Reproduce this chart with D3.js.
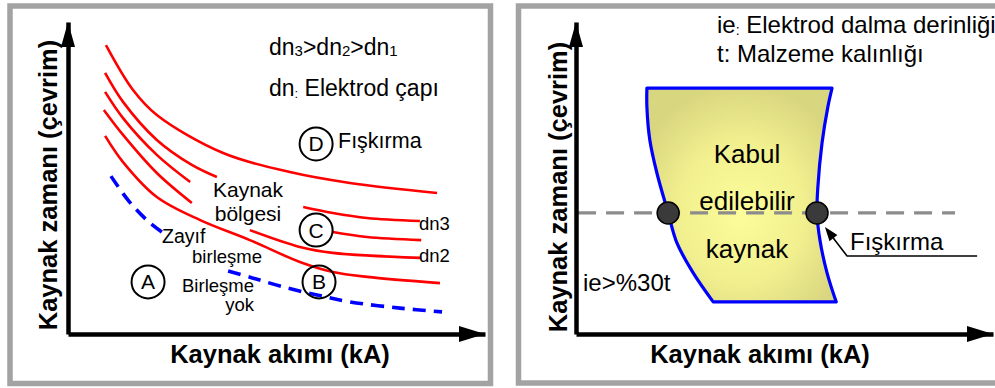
<!DOCTYPE html>
<html>
<head>
<meta charset="utf-8">
<script src="https://cdn.jsdelivr.net/npm/d3@7"></script>
<style>
  html, body { margin: 0; padding: 0; background: #fff; }
  svg { display: block; font-family: "Liberation Sans", Arial, sans-serif; }
</style>
</head>
<body>
<svg id="chart" width="995" height="388"></svg>
<script>
// ---------- Left diagram: welding time vs. welding current lobes ----------
// Values are in schematic units (0-100 on both axes).
const curveA  = [[9.1,92.6],[15.6,78.2],[21.3,70.2],[37.2,58.0],[53.2,51.9],[67.6,48.4],[88.5,45.2]];
const curveB  = [[8.9,83.7],[13.2,74.4],[21.3,62.2],[29.7,54.2],[35.7,50.3]];
const curveDn3 = [[56.4,40.7],[63.5,38.8],[71.7,37.2],[84.4,36.2]];
const curveC  = [[8.9,77.6],[13.2,69.2],[21.3,57.4],[29.3,48.7]];
const curveCTail = [[63.5,32.7],[71.7,31.1],[84.7,30.1]];
const curveD  = [[8.6,71.8],[13.2,63.8],[21.3,51.6],[29.7,42.0]];
const curveDn2 = [[43.6,33.3],[55.6,27.9],[63.5,26.0],[84.7,24.4]];
const curveE  = [[8.9,63.5],[13.2,55.1],[21.3,43.9],[31.7,36.5],[43.6,30.1],[55.6,23.1],[63.5,19.9],[71.7,18.3],[89.2,16.3]];
const noWeldA = [[10.3,50.6],[14.4,42.9],[18.9,36.5],[22.5,32.7]];
const noWeldB = [[38.4,20.2],[44.4,17.9],[51.6,15.1],[59.7,12.5],[67.6,10.3],[79.6,8.3],[89.7,7.1]];
const zoneLetters = ["A","B","C","D"];
const zoneCenters = [[19.2,16.7],[60.2,16.7],[59.5,33.3],[59.5,60.9]];

// ---------- Right diagram: acceptable weld window ----------
const lobeRight = [[61.4,78.8],[60.4,72.8],[59.0,61.2],[58.0,47.1],[57.8,38.8],[58.5,30.1],[60.2,19.6],[62.4,10.3]];
const lobeLeft  = [[32.9,10.3],[28.1,19.6],[24.2,29.2],[22.1,38.8],[19.4,51.6],[17.7,62.2],[17.0,72.8],[17.0,78.8]];
const depthLevel = 38.8;
const depthSpan = [0.5, 90.9];
const limitPoints = [[22.1,38.8],[57.8,38.8]];
const expulsionLeader = [[59.7,34.3],[65.0,25.0],[96.2,25.0]];

const axisXTitle = "Kaynak akımı (kA)";
const axisYTitle = "Kaynak zamanı (çevrim)";

const svg = d3.select("#chart");
const FONT = '"Liberation Sans", Arial, sans-serif';

svg.append("rect").attr("width", 995).attr("height", 388).attr("fill", "#fff");

const defs = svg.append("defs");
const grad = defs.append("radialGradient").attr("id", "lobeFill")
  .attr("cx", "50%").attr("cy", "58%").attr("r", "60%");
grad.append("stop").attr("offset", "0%").attr("stop-color", "#fdfd9a");
grad.append("stop").attr("offset", "55%").attr("stop-color", "#f1ef8e");
grad.append("stop").attr("offset", "100%").attr("stop-color", "#d9d680");

// Panel frames
svg.append("rect").attr("x", 10).attr("y", 6).attr("width", 480.5).attr("height", 377.5)
  .attr("fill", "none").attr("stroke", "#a3a3a3").attr("stroke-width", 5.5);
svg.append("rect").attr("x", 518.5).attr("y", 6).attr("width", 500).attr("height", 377)
  .attr("fill", "none").attr("stroke", "#a3a3a3").attr("stroke-width", 5.5);

function drawAxes(g, x, y, labelX, labelY) {
  const ax = g.append("g").attr("transform", `translate(0,${y(0)})`)
    .call(d3.axisBottom(x).ticks(0).tickSizeOuter(0));
  const ay = g.append("g").attr("transform", `translate(${x(0)},0)`)
    .call(d3.axisLeft(y).ticks(0).tickSizeOuter(0));
  [ax, ay].forEach(a => a.select(".domain").attr("stroke", "#000").attr("stroke-width", 4.5));
  // arrow heads
  const xe = x.range()[1], y0 = y(0);
  g.append("path").attr("d", `M${xe},${y0} L${xe - 26},${y0 - 8} L${xe - 26},${y0 + 8} Z`).attr("fill", "#000");
  const ye = y.range()[1], x0 = x(0);
  g.append("path").attr("d", `M${x0},${ye} L${x0 - 7},${ye + 25} L${x0 + 7},${ye + 25} Z`).attr("fill", "#000");
  // titles
  g.append("text").attr("x", labelX[0]).attr("y", labelX[1]).attr("text-anchor", "middle")
    .attr("font-family", FONT).attr("font-weight", "bold").attr("font-size", 25.5).text(axisXTitle);
  g.append("text").attr("transform", `translate(${labelY[0]},${labelY[1]}) rotate(-90)`)
    .attr("text-anchor", "middle")
    .attr("font-family", FONT).attr("font-weight", "bold").attr("font-size", 25.5).text(axisYTitle);
}

// ================= LEFT =================
const gL = svg.append("g");
const xL = d3.scaleLinear().domain([0, 100]).range([68, 485]);
const yL = d3.scaleLinear().domain([0, 100]).range([334, 22]);
const lineL = d3.line().x(d => xL(d[0])).y(d => yL(d[1])).curve(d3.curveCatmullRom.alpha(0.5));

[curveA, curveB, curveDn3, curveC, curveCTail, curveD, curveDn2, curveE].forEach(c => {
  gL.append("path").attr("d", lineL(c)).attr("fill", "none")
    .attr("stroke", "#ff0000").attr("stroke-width", 2.6);
});
[noWeldA, noWeldB].forEach(c => {
  gL.append("path").attr("d", lineL(c)).attr("fill", "none")
    .attr("stroke", "#0000ff").attr("stroke-width", 3.6).attr("stroke-dasharray", "13,8");
});

zoneLetters.forEach((L, i) => {
  const [cx, cy] = zoneCenters[i];
  gL.append("circle").attr("cx", xL(cx)).attr("cy", yL(cy)).attr("r", 16.5)
    .attr("fill", "none").attr("stroke", "#000").attr("stroke-width", 2);
  gL.append("text").attr("x", xL(cx)).attr("y", yL(cy) + 7.5).attr("text-anchor", "middle")
    .attr("font-family", FONT).attr("font-size", 21).text(L);
});

function txt(g, x, y, s, size, anchor) {
  return g.append("text").attr("x", x).attr("y", y).attr("text-anchor", anchor || "start")
    .attr("font-family", FONT).attr("font-size", size).text(s);
}

// dn3>dn2>dn1
const t1 = gL.append("text").attr("x", 269).attr("y", 55).attr("font-family", FONT).attr("font-size", 23);
[["dn", null], ["3", "s"], [">dn", null], ["2", "s"], [">dn", null], ["1", "s"]].forEach(([s, k]) => {
  const ts = t1.append("tspan").text(s);
  if (k) ts.attr("font-size", 15).attr("dy", 1); else ts.attr("dy", s === "dn" ? 0 : -1);
});
const t2 = gL.append("text").attr("x", 269).attr("y", 96).attr("font-family", FONT).attr("font-size", 23);
t2.append("tspan").text("dn");
t2.append("tspan").attr("font-size", 13).attr("dy", 2).text(":");
t2.append("tspan").attr("dy", -2).text(" Elektrod çapı");

txt(gL, 338, 148, "Fışkırma", 21.5);
txt(gL, 248, 197, "Kaynak", 21, "middle");
txt(gL, 248, 221, "bölgesi", 21, "middle");
txt(gL, 419, 230, "dn3", 18.5);
txt(gL, 419, 262, "dn2", 18.5);
txt(gL, 162, 243, "Zayıf", 19.5);
txt(gL, 262, 263, "birleşme", 18.5, "end");
txt(gL, 254, 292, "Birleşme", 18.5, "end");
txt(gL, 254, 311, "yok", 18.5, "end");

drawAxes(gL, xL, yL, [280, 363], [57, 185]);

// ================= RIGHT =================
const gR = svg.append("g");
const xR = d3.scaleLinear().domain([0, 100]).range([576, 993]);
const yR = d3.scaleLinear().domain([0, 100]).range([334, 22]);
const sideR = d3.line().x(d => xR(d[0])).y(d => yR(d[1])).curve(d3.curveCatmullRom.alpha(0.5));

const lobePath = sideR(lobeRight) + "L" + sideR(lobeLeft).slice(1) + "Z";
gR.append("path").attr("d", lobePath).attr("fill", "url(#lobeFill)")
  .attr("stroke", "#0000ff").attr("stroke-width", 3.2).attr("stroke-linejoin", "round");

gR.append("line")
  .attr("x1", xR(depthSpan[0])).attr("x2", xR(depthSpan[1]))
  .attr("y1", yR(depthLevel)).attr("y2", yR(depthLevel))
  .attr("stroke", "#8c8c8c").attr("stroke-width", 3.2).attr("stroke-dasharray", "18,10");

txt(gR, 747, 163, "Kabul", 26, "middle");
txt(gR, 747, 210, "edilebilir", 26, "middle");
txt(gR, 747, 258, "kaynak", 26, "middle");

gR.selectAll("circle.limit").data(limitPoints).join("circle").attr("class", "limit")
  .attr("cx", d => xR(d[0])).attr("cy", d => yR(d[1])).attr("r", 11)
  .attr("fill", "#3a3a3a").attr("stroke", "#000").attr("stroke-width", 1.5);

// leader to the expulsion limit
const lead = d3.line().x(d => xR(d[0])).y(d => yR(d[1]));
gR.append("path").attr("d", lead(expulsionLeader.slice().reverse().slice(0, 2).concat([[expulsionLeader[0][0] + 1.3, expulsionLeader[0][1] - 2.3]])))
  .attr("fill", "none").attr("stroke", "#000").attr("stroke-width", 1.6);
{
  const [tx, ty] = [xR(expulsionLeader[0][0]), yR(expulsionLeader[0][1])];
  const [ex, ey] = [xR(expulsionLeader[1][0]), yR(expulsionLeader[1][1])];
  const ang = Math.atan2(ey - ty, ex - tx);
  const L = 14, W = 5;
  const bx = tx + L * Math.cos(ang), by = ty + L * Math.sin(ang);
  const px = -Math.sin(ang) * W, py = Math.cos(ang) * W;
  gR.append("path").attr("d", `M${tx},${ty} L${bx + px},${by + py} L${bx - px},${by - py} Z`).attr("fill", "#000");
}
txt(gR, 850, 250, "Fışkırma", 24);
txt(gR, 583, 291, "ie>%30t", 24);

const t3 = gR.append("text").attr("x", 717).attr("y", 33).attr("font-family", FONT).attr("font-size", 24);
t3.append("tspan").text("ie");
t3.append("tspan").attr("font-size", 14).attr("dy", 2).text(":");
t3.append("tspan").attr("dy", -2).text(" Elektrod dalma derinliği");
txt(gR, 717, 62, "t: Malzeme kalınlığı", 24);

drawAxes(gR, xR, yR, [760, 363], [567, 187]);
</script>
</body>
</html>
